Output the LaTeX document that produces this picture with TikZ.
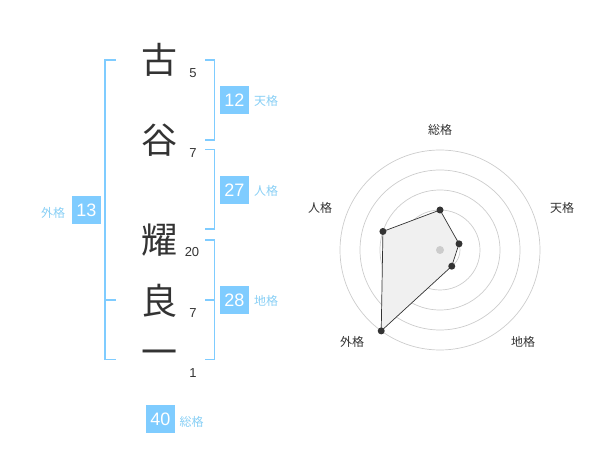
\documentclass[tikz,border=0pt]{standalone}
\usepackage{fontspec}
\setmainfont{Liberation Sans}
\newfontfamily\jp{Noto Sans CJK JP}
\definecolor{sky}{HTML}{7FCCFF}
\definecolor{skytxt}{HTML}{88CFF5}
\definecolor{ink}{HTML}{333333}
\definecolor{ring}{HTML}{CCCCCC}
\definecolor{area}{HTML}{F0F0F0}
\begin{document}
\begin{tikzpicture}[x=1pt,y=-1pt,
  kanji/.style={font=\jp\fontsize{36}{36}\selectfont, text=ink, inner sep=0},
  strokes/.style={font=\fontsize{13}{13}\selectfont, text=ink, inner sep=0},
  numbox/.style={fill=sky, text=white, font=\fontsize{18}{18}\selectfont, minimum width=29, minimum height=28, inner sep=0},
  kaku/.style={font=\jp\fontsize{12}{12}\selectfont, text=skytxt, inner sep=0},
  radlabel/.style={font=\jp\fontsize{12}{12}\selectfont, text=ink, inner sep=0},
  brk/.style={draw=sky, line width=1.5},
  dot/.style={circle, fill=ink, inner sep=0, minimum size=7}]
\useasboundingbox (0,0) rectangle (600,470);
% kanji
\node[kanji] (k1) at (159.5,60) {古};
\node[kanji] (k2) at (159.5,140) {谷};
\node[kanji] (k3) at (159.5,240) {耀};
\node[kanji] (k4) at (159.5,301) {良};
\node[kanji] (k5) at (159.5,358) {一};
% stroke counts
\node[strokes] (s1) at (193,73) {5};
\node[strokes] (s2) at (193,153) {7};
\node[strokes] (s3) at (192,252.5) {20};
\node[strokes] (s4) at (193,313) {7};
\node[strokes] (s5) at (193,373) {1};
% brackets
\draw[brk] (115.5,60) -- (105,60) -- (105,359.5) -- (115.5,359.5);
\draw[brk] (105,300) -- (115.5,300);
\draw[brk] (205,60) -- (214.5,60) -- (214.5,140) -- (205,140);
\draw[brk] (205,149.5) -- (214.5,149.5) -- (214.5,229) -- (205,229);
\draw[brk] (205,240) -- (214.5,240) -- (214.5,359.5) -- (205,359.5);
\draw[brk] (205,300) -- (214.5,300);
% scores
\node[numbox] (b1) at (234.5,100) {12};
\node[kaku] (l1) at (266,101) {天格};
\node[numbox] (b2) at (234.5,190) {27};
\node[kaku] (l2) at (266,191) {人格};
\node[numbox] (b3) at (234.5,300) {28};
\node[kaku] (l3) at (266,301) {地格};
\node[numbox] (b4) at (86.5,210) {13};
\node[kaku] (l4) at (53,213) {外格};
\node[numbox] (b5) at (160.5,419) {40};
\node[kaku] (l5) at (191.5,422) {総格};
% radar
\begin{scope}[shift={(440,250)},yscale=-1]
  \foreach \r in {20,40,60,80,100} \draw[ring, line width=0.7] (0,0) circle (\r);
  \coordinate (pa) at (90:40);
  \coordinate (pb) at (18:20);
  \coordinate (pc) at (-54:20);
  \coordinate (pd) at (-126:100);
  \coordinate (pe) at (162:60);
  \fill[area] (pa) -- (pb) -- (pc) -- (pd) -- (pe) -- cycle;
  \draw[ink, line width=0.7] (pa) -- (pb) -- (pc) -- (pd) -- (pe) -- cycle;
  \fill[ring] (0,0) circle (4);
  \node[dot] (da) at (pa) {};
  \node[dot] (db) at (pb) {};
  \node[dot] (dc) at (pc) {};
  \node[dot] (dd) at (pd) {};
  \node[dot] (de) at (pe) {};
\end{scope}
\node[radlabel] (r1) at (440,130) {総格};
\node[radlabel] (r2) at (562,208) {天格};
\node[radlabel] (r3) at (320,208) {人格};
\node[radlabel] (r4) at (352,342) {外格};
\node[radlabel] (r5) at (523,342) {地格};
\end{tikzpicture}
\end{document}
